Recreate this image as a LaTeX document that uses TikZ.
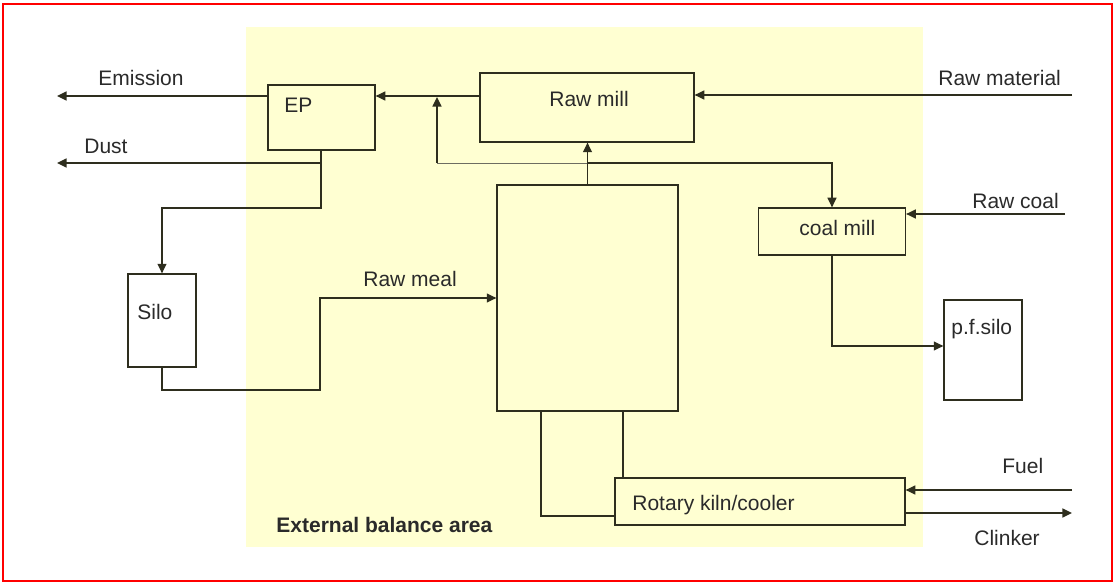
\documentclass[tikz,border=0pt]{standalone}
\usepackage{fontspec}
\setmainfont{Liberation Sans}
\usetikzlibrary{arrows.meta}
\definecolor{areafill}{HTML}{FFFFD2}
\definecolor{linec}{HTML}{2E2E1E}
\definecolor{textc}{HTML}{2A2A2A}
\begin{document}
\begin{tikzpicture}[x=0.5pt,y=-0.5pt,
  flow/.style={draw=linec, line width=0.65pt},
  thinflow/.style={draw=linec!70, line width=0.45pt},
  arr/.style={flow, -{Triangle[length=4.8pt,width=4.5pt]}},
  box/.style={draw=linec, line width=0.65pt, fill=areafill, inner sep=0pt, rectangle},
  whitebox/.style={box, fill=white},
  lbl/.style={anchor=base west, inner sep=0pt, text=textc, font=\fontsize{10.5pt}{12pt}\selectfont},
]
\useasboundingbox (0,0) rectangle (1115,583);

% balance area and frame
\fill[areafill] (246,27) rectangle (923,547);
\draw[red, line width=0.8pt] (3,4) rectangle (1112,581);

% process units
\node[box, minimum width=53.5pt, minimum height=32.5pt] (ep) at (321.5,117.5) {};
\node[box, minimum width=107pt, minimum height=34.5pt] (rawmill) at (587,107.5) {};
\node[box, minimum width=90.5pt, minimum height=113pt] (preheater) at (587.5,298) {};
\node[box, minimum width=73.5pt, minimum height=23.5pt] (coalmill) at (832,231.5) {};
\node[whitebox, minimum width=34pt, minimum height=46.5pt] (silo) at (162,320.5) {};
\node[whitebox, minimum width=39pt, minimum height=50pt] (pfsilo) at (983,350) {};
\node[box, minimum width=145pt, minimum height=23.5pt] (kiln) at (760,501.5) {};

% texts
\node[lbl] (t-ep) at (284,113) {EP};
\node[lbl] (t-rawmill) at (549,107) {Raw mill};
\node[lbl] (t-coalmill) at (799,235) {coal mill};
\node[lbl] (t-silo) at (137,320) {Silo};
\node[lbl] (t-pfsilo) at (951,335) {p.f.silo};
\node[lbl] (t-kiln) at (632,510) {Rotary kiln/cooler};
\node[lbl] (t-emission) at (98,86) {Emission};
\node[lbl] (t-dust) at (84,154) {Dust};
\node[lbl] (t-rawmat) at (938,86) {Raw material};
\node[lbl] (t-rawcoal) at (972,209) {Raw coal};
\node[lbl] (t-rawmeal) at (363,286) {Raw meal};
\node[lbl] (t-fuel) at (1002,473) {Fuel};
\node[lbl] (t-clinker) at (974,545) {Clinker};
\node[lbl, font=\fontsize{10.5pt}{12pt}\selectfont\bfseries] (t-area) at (276,532) {External balance area};

% free ends and junctions
\coordinate (rawmatsrc) at (1072,95);
\coordinate (rawcoalsrc) at (1065,214);
\coordinate (fuelsrc) at (1072,490);
\coordinate (clinkerdst) at (1072,513);
\coordinate (emissiondst) at (57,96);
\coordinate (dustdst) at (57,163);
\coordinate (gasjoin) at (437,96);
\coordinate (gassplit) at (437,163);
\coordinate (dustsplit) at (321,163);
\coordinate (dusttosilo) at (321,208);
\coordinate (mealstep) at (320,390);

% raw mill feed and gas path
\draw[arr] (rawmatsrc) -- (rawmatsrc -| rawmill.east);
\draw[arr] (rawmill.west |- gasjoin) -- (ep.east |- gasjoin);
\draw[arr] (ep.west |- gasjoin) -- (emissiondst);
\draw[arr] (gassplit) -- ([yshift=-0.5pt]gasjoin);
\draw[thinflow] (gassplit) -- (preheater.north |- gassplit);
\draw[arr] (preheater.north |- gassplit) -| (coalmill.north);
\draw[arr] (preheater.north) -- (preheater.north |- rawmill.south);

% dust handling
\draw[flow] (ep.south -| dustsplit) -- (dustsplit);
\draw[arr] (dustsplit) -- (dustdst);
\draw[arr] (dustsplit) -- (dusttosilo) -| (silo.north);
\draw[arr] (silo.south) |- (mealstep) |- (preheater.west);

% coal line
\draw[arr] (rawcoalsrc) -- (rawcoalsrc -| coalmill.east);
\draw[arr] (coalmill.south) |- (pfsilo.west |- 0,346);

% kiln connections
\draw[flow] (preheater.south -| 541,0) |- (kiln.west |- 0,516);
\draw[flow] (preheater.south -| 623,0) -- (kiln.north -| 623,0);
\draw[arr] (fuelsrc) -- (fuelsrc -| kiln.east);
\draw[arr] (kiln.east |- clinkerdst) -- (clinkerdst);
\end{tikzpicture}
\end{document}
